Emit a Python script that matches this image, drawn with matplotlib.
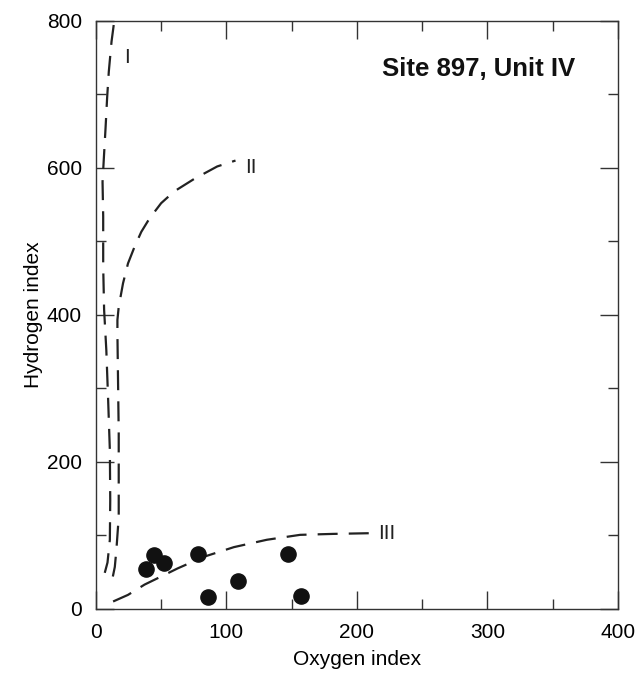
import matplotlib.pyplot as plt
import numpy as np

plt.rcParams['font.family'] = ['Liberation Sans', 'DejaVu Sans']

# sample points (oxygen index, hydrogen index)
oi = [38.6, 44.9, 52, 77.9, 86, 108.8, 146.9, 157.5]
hi = [54, 73, 63, 74, 16, 38.5, 74, 18]

# kerogen type evolution curves
type1_x = [6.8, 8.9, 10.7, 11, 10.7, 9.4, 8, 6.3, 5.6, 5.6, 5.1, 6.1, 7.4, 8.6, 9.9, 12, 14]
type1_y = [49, 63, 94, 148, 216, 284, 352, 407, 466, 534, 581, 613, 654, 695, 731, 772, 799]

type2_x = [13, 14.5, 15.7, 17.5, 17.5, 17.5, 17, 16.5, 16.5, 17.5, 20.8, 24.6, 29.7,
           34.8, 41, 50, 60, 75.3, 93, 107]
type2_y = [44, 57, 80, 125, 171, 239, 307, 375, 393, 411, 443, 470, 493,
           513, 531, 552, 568, 585, 602, 610]

type3_x = [13.2, 24.6, 37.3, 50, 62.6, 83, 105.8, 131, 156.5, 182, 212]
type3_y = [10, 19, 33, 44, 55, 71, 84, 94, 100.7, 102, 103]

fig = plt.figure(figsize=(6.35, 6.75), dpi=100)
ax = fig.add_axes([0.151, 0.098, 0.822, 0.871])

dash = (0, (9, 5))
for xs, ys in [(type1_x, type1_y), (type2_x, type2_y), (type3_x, type3_y)]:
    ax.plot(xs, ys, color='#222222', lw=1.6, linestyle=dash)

ax.scatter(oi, hi, s=120, color='#111111', zorder=3)

ax.text(23.5, 750, 'I', fontsize=15, ha='center', va='center', color='#222222')
ax.text(119, 601, 'II', fontsize=15, ha='center', va='center', color='#222222')
ax.text(223, 103, 'III', fontsize=15, ha='center', va='center', color='#222222')
ax.text(293, 734, 'Site 897, Unit IV', fontsize=18.5, fontweight='bold',
        ha='center', va='center', color='#111111')

ax.set_xlim(0, 400)
ax.set_ylim(0, 800)
ax.set_xticks([0, 100, 200, 300, 400])
ax.set_yticks([0, 200, 400, 600, 800])
ax.set_xticks(np.arange(50, 400, 100), minor=True)
ax.set_yticks(np.arange(100, 800, 200), minor=True)
ax.tick_params(which='both', direction='in', top=True, right=True,
               color='#333333', width=1)
ax.tick_params(which='major', length=13, labelsize=15, pad=10)
ax.tick_params(which='minor', length=7.5)
for s in ax.spines.values():
    s.set_color('#333333')
    s.set_linewidth(1)

ax.set_xlabel('Oxygen index', fontsize=15, labelpad=6)
ax.set_ylabel('Hydrogen index', fontsize=15, labelpad=3)

plt.savefig('out.png', dpi=100)
